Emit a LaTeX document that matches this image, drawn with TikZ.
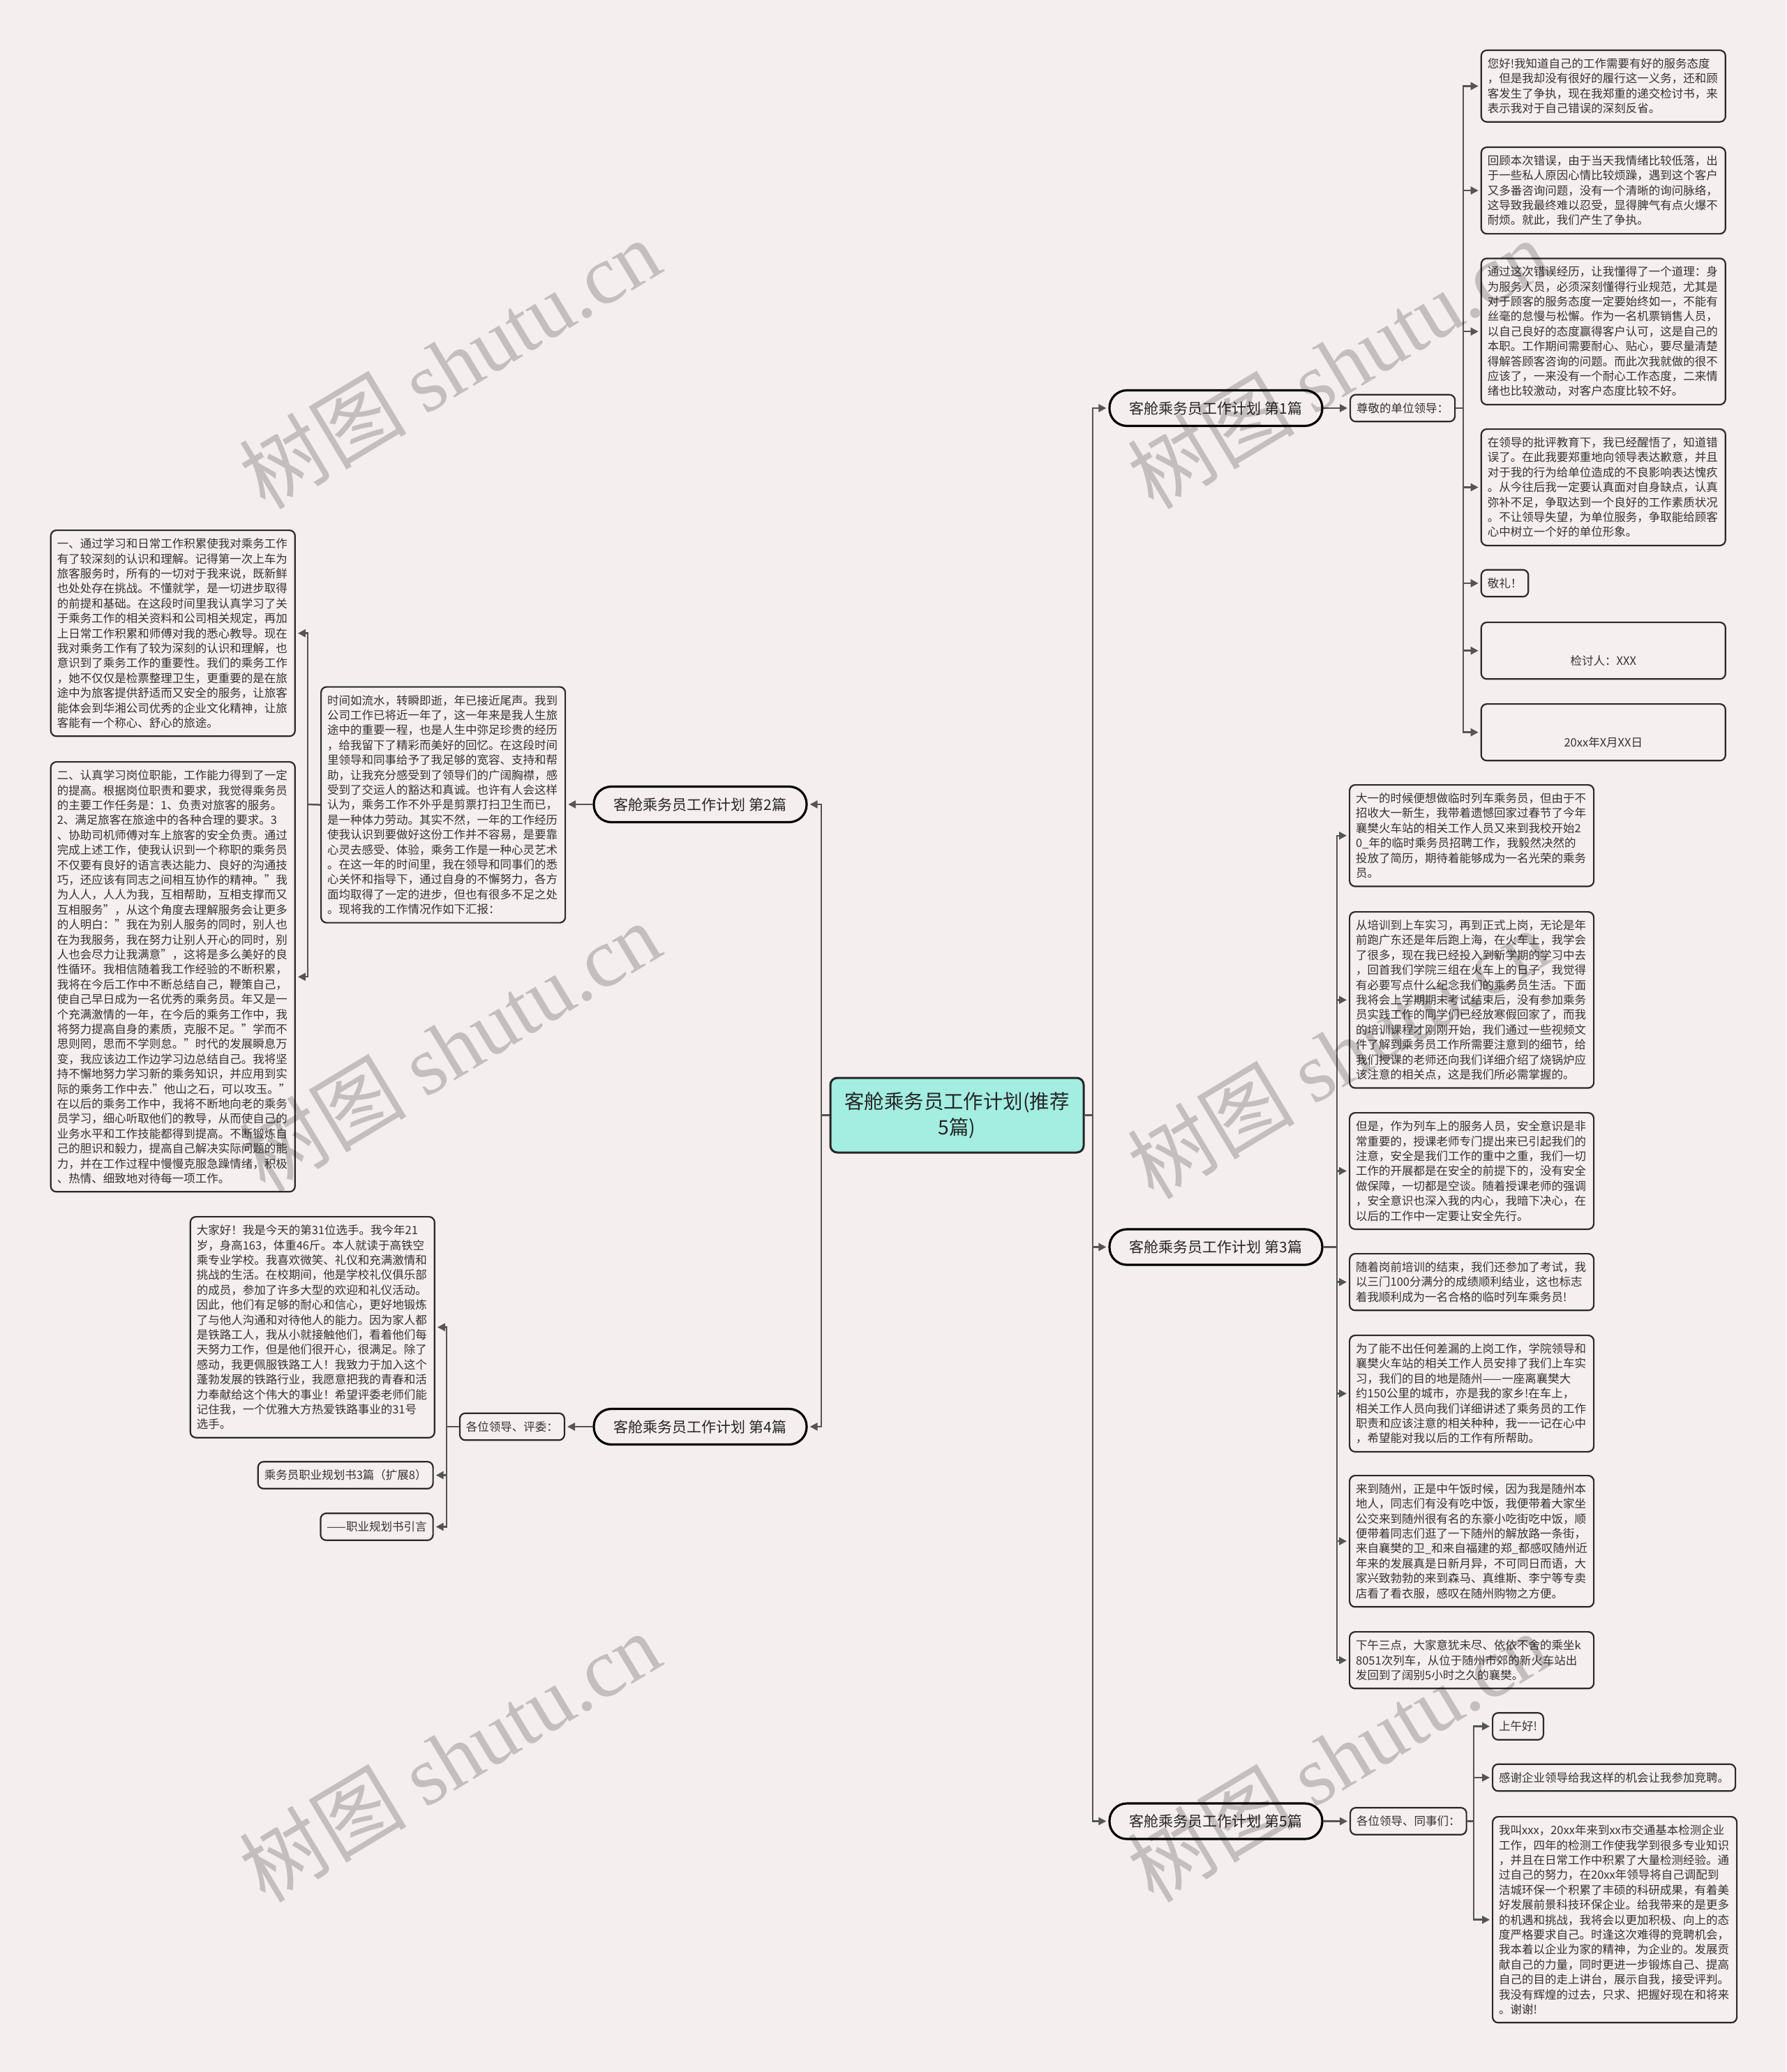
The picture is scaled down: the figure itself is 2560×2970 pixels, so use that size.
\documentclass[tikz,border=0pt]{standalone}
\usepackage{fontspec}
\setmainfont{Noto Sans CJK SC}
\newfontfamily\wmlatin{Liberation Serif}
\usetikzlibrary{arrows.meta}
\definecolor{bgc}{HTML}{F5EEEE}
\definecolor{boxfill}{HTML}{F6EFEF}
\definecolor{rootfill}{HTML}{A3EDE1}
\definecolor{linec}{HTML}{555555}
\definecolor{edgec}{HTML}{2B2B2B}
\definecolor{txtc}{HTML}{333333}
\newcommand\mmbody{\fontsize{8.25pt}{10.7pt}\selectfont}
\newcommand\mmbranch{\fontsize{10.5pt}{12pt}\selectfont}
\newcommand\mmroot{\fontsize{14.2pt}{18.5pt}\selectfont}
\newcommand\mmwm{\fontsize{60pt}{60pt}\selectfont}
\begin{document}
\begin{tikzpicture}[x=0.5pt,y=-0.5pt,
  conn/.style={draw=linec, line width=1.25pt},
  arr/.style={conn, -{Triangle[length=5.5pt,width=5.5pt]}, shorten >=1.5pt},
  leaf/.style={draw=edgec, line width=1.1pt, rounded corners=4pt, fill=boxfill, text=txtc,
    font=\mmbody, text width=166pt, inner xsep=4.5pt, inner ysep=2pt, align=left,
    anchor=north west, minimum height={#1*10.7pt+8.5pt}},
  tag/.style={draw=edgec, line width=1.1pt, rounded corners=4pt, fill=boxfill, text=txtc,
    font=\mmbody, inner xsep=4.5pt, inner ysep=2pt, minimum height=19.3pt},
  branch/.style={draw=black, line width=1.6pt, rounded corners=12.5pt, fill=bgc, text=black!85,
    font=\mmbranch, minimum width=152.5pt, minimum height=25.5pt, inner sep=2pt},
  rootbox/.style={draw=black!85, line width=1.5pt, rounded corners=5pt, fill=rootfill, text=black!85,
    font=\mmroot, align=center, minimum width=181.5pt, minimum height=53.5pt},
  wm/.style={rotate=31, font=\mmwm, text=black, text opacity=0.2}
]
\useasboundingbox (0,0) rectangle (2560,2970);
\fill[bgc] (0,0) rectangle (2560,2970);

% root
\node[rootbox] (root) at (1371.5,1598.5) {客舱乘务员工作计划(推荐\\5篇)};

% branches
\node[branch] (b1) at (1742.5,585) {客舱乘务员工作计划 第1篇};
\node[branch] (b3) at (1742.5,1787.5) {客舱乘务员工作计划 第3篇};
\node[branch] (b5) at (1742.5,2610.5) {客舱乘务员工作计划 第5篇};
\node[branch] (b2) at (1003.5,1153) {客舱乘务员工作计划 第2篇};
\node[branch] (b4) at (1003.5,2045) {客舱乘务员工作计划 第4篇};

% ---------- branch 1 ----------
\node[tag, anchor=west] (lab1) at (1934,585) {尊敬的单位领导：};
\node[leaf=4] (r1a) at (2121.7,71) {您好!我知道自己的工作需要有好的服务态度\\
，但是我却没有很好的履行这一义务，还和顾\\
客发生了争执，现在我郑重的递交检讨书，来\\
表示我对于自己错误的深刻反省。};
\node[leaf=5] (r1b) at (2121.7,210) {回顾本次错误，由于当天我情绪比较低落，出\\
于一些私人原因心情比较烦躁，遇到这个客户\\
又多番咨询问题，没有一个清晰的询问脉络，\\
这导致我最终难以忍受，显得脾气有点火爆不\\
耐烦。就此，我们产生了争执。};
\node[leaf=9] (r1c) at (2121.7,369.3) {通过这次错误经历，让我懂得了一个道理：身\\
为服务人员，必须深刻懂得行业规范，尤其是\\
对于顾客的服务态度一定要始终如一，不能有\\
丝毫的怠慢与松懈。作为一名机票销售人员，\\
以自己良好的态度赢得客户认可，这是自己的\\
本职。工作期间需要耐心、贴心，要尽量清楚\\
得解答顾客咨询的问题。而此次我就做的很不\\
应该了，一来没有一个耐心工作态度，二来情\\
绪也比较激动，对客户态度比较不好。};
\node[leaf=7] (r1d) at (2121.7,614) {在领导的批评教育下，我已经醒悟了，知道错\\
误了。在此我要郑重地向领导表达歉意，并且\\
对于我的行为给单位造成的不良影响表达愧疚\\
。从今往后我一定要认真面对自身缺点，认真\\
弥补不足，争取达到一个良好的工作素质状况\\
。不让领导失望，为单位服务，争取能给顾客\\
心中树立一个好的单位形象。};
\node[tag, anchor=west] (r1e) at (2121.7,836) {敬礼！};
\node[leaf=3, align=center] (r1f) at (2121.7,891) {\mbox{}\\
\mbox{}\\
检讨人：XXX};
\node[leaf=3, align=center] (r1g) at (2121.7,1008) {\mbox{}\\
\mbox{}\\
20xx年X月XX日};

\draw[arr] (b1.east) -- (lab1.west);
\coordinate (t1) at (2097,585);
\draw[conn] (lab1.east) -- (t1);
\foreach \c in {r1a,r1b,r1c,r1d,r1e,r1f,r1g} \draw[arr] (t1) |- (\c.west);

% ---------- branch 3 ----------
\node[leaf=6] (r3a) at (1933,1124) {大一的时候便想做临时列车乘务员，但由于不\\
招收大一新生，我带着遗憾回家过春节了今年\\
襄樊火车站的相关工作人员又来到我校开始2\\
0\_年的临时乘务员招聘工作，我毅然决然的\\
投放了简历，期待着能够成为一名光荣的乘务\\
员。};
\node[leaf=11] (r3b) at (1933,1306) {从培训到上车实习，再到正式上岗，无论是年\\
前跑广东还是年后跑上海，在火车上，我学会\\
了很多，现在我已经投入到新学期的学习中去\\
，回首我们学院三组在火车上的日子，我觉得\\
有必要写点什么纪念我们的乘务员生活。下面\\
我将会上学期期末考试结束后，没有参加乘务\\
员实践工作的同学们已经放寒假回家了，而我\\
的培训课程才刚刚开始，我们通过一些视频文\\
件了解到乘务员工作所需要注意到的细节，给\\
我们授课的老师还向我们详细介绍了烧锅炉应\\
该注意的相关点，这是我们所必需掌握的。};
\node[leaf=7] (r3c) at (1933,1594) {但是，作为列车上的服务人员，安全意识是非\\
常重要的，授课老师专门提出来已引起我们的\\
注意，安全是我们工作的重中之重，我们一切\\
工作的开展都是在安全的前提下的，没有安全\\
做保障，一切都是空谈。随着授课老师的强调\\
，安全意识也深入我的内心，我暗下决心，在\\
以后的工作中一定要让安全先行。};
\node[leaf=3] (r3d) at (1933,1796) {随着岗前培训的结束，我们还参加了考试，我\\
以三门100分满分的成绩顺利结业，这也标志\\
着我顺利成为一名合格的临时列车乘务员!};
\node[leaf=7] (r3e) at (1933,1913) {为了能不出任何差漏的上岗工作，学院领导和\\
襄樊火车站的相关工作人员安排了我们上车实\\
习，我们的目的地是随州——一座离襄樊大\\
约150公里的城市，亦是我的家乡!在车上，\\
相关工作人员向我们详细讲述了乘务员的工作\\
职责和应该注意的相关种种，我一一记在心中\\
，希望能对我以后的工作有所帮助。};
\node[leaf=8] (r3f) at (1933,2114) {来到随州，正是中午饭时候，因为我是随州本\\
地人，同志们有没有吃中饭，我便带着大家坐\\
公交来到随州很有名的东豪小吃街吃中饭，顺\\
便带着同志们逛了一下随州的解放路一条街，\\
来自襄樊的卫\_和来自福建的郑\_都感叹随州近\\
年来的发展真是日新月异，不可同日而语，大\\
家兴致勃勃的来到森马、真维斯、李宁等专卖\\
店看了看衣服，感叹在随州购物之方便。};
\node[leaf=3] (r3g) at (1933,2338) {下午三点，大家意犹未尽、依依不舍的乘坐k\\
8051次列车，从位于随州市郊的新火车站出\\
发回到了阔别5小时之久的襄樊。};

\coordinate (t3) at (1916,1787.5);
\draw[conn] (b3.east) -- (t3);
\foreach \c in {r3a,r3b,r3c,r3d,r3e,r3f,r3g} \draw[arr] (t3) |- (\c.west);

% ---------- branch 5 ----------
\node[tag, anchor=west] (lab5) at (1934,2610.5) {各位领导、同事们：};
\node[tag, anchor=west] (r5a) at (2138,2474.5) {上午好!};
\node[tag, anchor=west] (r5b) at (2138,2548) {感谢企业领导给我这样的机会让我参加竞聘。};
\node[leaf=13] (r5c) at (2138,2603) {我叫xxx，20xx年来到xx市交通基本检测企业\\
工作，四年的检测工作使我学到很多专业知识\\
，并且在日常工作中积累了大量检测经验。通\\
过自己的努力，在20xx年领导将自己调配到\\
洁城环保一个积累了丰硕的科研成果，有着美\\
好发展前景科技环保企业。给我带来的是更多\\
的机遇和挑战，我将会以更加积极、向上的态\\
度严格要求自己。时逢这次难得的竞聘机会，\\
我本着以企业为家的精神，为企业的。发展贡\\
献自己的力量，同时更进一步锻炼自己、提高\\
自己的目的走上讲台，展示自我，接受评判。\\
我没有辉煌的过去，只求、把握好现在和将来\\
。谢谢!};

\draw[arr] (b5.east) -- (lab5.west);
\coordinate (t5) at (2112,2610.5);
\draw[conn] (lab5.east) -- (t5);
\foreach \c in {r5a,r5b,r5c} \draw[arr] (t5) |- (\c.west);

% ---------- branch 2 ----------
\node[leaf=15] (l2) at (459,983.5) {时间如流水，转瞬即逝，年已接近尾声。我到\\
公司工作已将近一年了，这一年来是我人生旅\\
途中的重要一程，也是人生中弥足珍贵的经历\\
，给我留下了精彩而美好的回忆。在这段时间\\
里领导和同事给予了我足够的宽容、支持和帮\\
助，让我充分感受到了领导们的广阔胸襟，感\\
受到了交运人的豁达和真诚。也许有人会这样\\
认为，乘务工作不外乎是剪票打扫卫生而已，\\
是一种体力劳动。其实不然，一年的工作经历\\
使我认识到要做好这份工作并不容易，是要靠\\
心灵去感受、体验，乘务工作是一种心灵艺术\\
。在这一年的时间里，我在领导和同事们的悉\\
心关怀和指导下，通过自身的不懈努力，各方\\
面均取得了一定的进步，但也有很多不足之处\\
。现将我的工作情况作如下汇报：};
\node[leaf=13] (l2a) at (71.7,759) {一、通过学习和日常工作积累使我对乘务工作\\
有了较深刻的认识和理解。记得第一次上车为\\
旅客服务时，所有的一切对于我来说，既新鲜\\
也处处存在挑战。不懂就学，是一切进步取得\\
的前提和基础。在这段时间里我认真学习了关\\
于乘务工作的相关资料和公司相关规定，再加\\
上日常工作积累和师傅对我的悉心教导。现在\\
我对乘务工作有了较为深刻的认识和理解，也\\
意识到了乘务工作的重要性。我们的乘务工作\\
，她不仅仅是检票整理卫生，更重要的是在旅\\
途中为旅客提供舒适而又安全的服务，让旅客\\
能体会到华湘公司优秀的企业文化精神，让旅\\
客能有一个称心、舒心的旅途。};
\node[leaf=28] (l2b) at (71.7,1091) {二、认真学习岗位职能，工作能力得到了一定\\
的提高。根据岗位职责和要求，我觉得乘务员\\
的主要工作任务是：1、负责对旅客的服务。\\
2、满足旅客在旅途中的各种合理的要求。3\\
、协助司机师傅对车上旅客的安全负责。通过\\
完成上述工作，使我认识到一个称职的乘务员\\
不仅要有良好的语言表达能力、良好的沟通技\\
巧，还应该有同志之间相互协作的精神。"我\\
为人人，人人为我，互相帮助，互相支撑而又\\
互相服务"，从这个角度去理解服务会让更多\\
的人明白："我在为别人服务的同时，别人也\\
在为我服务，我在努力让别人开心的同时，别\\
人也会尽力让我满意"，这将是多么美好的良\\
性循环。我相信随着我工作经验的不断积累，\\
我将在今后工作中不断总结自己，鞭策自己，\\
使自己早日成为一名优秀的乘务员。年又是一\\
个充满激情的一年，在今后的乘务工作中，我\\
将努力提高自身的素质，克服不足。"学而不\\
思则罔，思而不学则怠。"时代的发展瞬息万\\
变，我应该边工作边学习边总结自己。我将坚\\
持不懈地努力学习新的乘务知识，并应用到实\\
际的乘务工作中去."他山之石，可以攻玉。"\\
在以后的乘务工作中，我将不断地向老的乘务\\
员学习，细心听取他们的教导，从而使自己的\\
业务水平和工作技能都得到提高。不断锻炼自\\
己的胆识和毅力，提高自己解决实际问题的能\\
力，并在工作过程中慢慢克服急躁情绪，积极\\
、热情、细致地对待每一项工作。};

\draw[arr] (b2.west) -- (b2.west -| l2.east);
\coordinate (t2) at (441,1153);
\draw[conn] (l2.west) -- (t2);
\foreach \c in {l2a,l2b} \draw[arr] (t2) |- (\c.east);

% ---------- branch 4 ----------
\node[tag, anchor=east] (lab4) at (810,2045) {各位领导、评委：};
\node[leaf=14] (l4a) at (271.7,1743) {大家好！我是今天的第31位选手。我今年21\\
岁，身高163，体重46斤。本人就读于高铁空\\
乘专业学校。我喜欢微笑、礼仪和充满激情和\\
挑战的生活。在校期间，他是学校礼仪俱乐部\\
的成员，参加了许多大型的欢迎和礼仪活动。\\
因此，他们有足够的耐心和信心，更好地锻炼\\
了与他人沟通和对待他人的能力。因为家人都\\
是铁路工人，我从小就接触他们，看着他们每\\
天努力工作，但是他们很开心，很满足。除了\\
感动，我更佩服铁路工人！我致力于加入这个\\
蓬勃发展的铁路行业，我愿意把我的青春和活\\
力奉献给这个伟大的事业！希望评委老师们能\\
记住我，一个优雅大方热爱铁路事业的31号\\
选手。};
\node[tag, anchor=east] (l4b) at (621.7,2114.5) {乘务员职业规划书3篇（扩展8）};
\node[tag, anchor=east] (l4c) at (621.7,2188.5) {——职业规划书引言};

\draw[arr] (b4.west) -- (lab4.east);
\coordinate (t4) at (640,2045);
\draw[conn] (lab4.west) -- (t4);
\foreach \c in {l4a,l4b,l4c} \draw[arr] (t4) |- (\c.east);

% ---------- root connectors ----------
\coordinate (tR) at (1566,1598.5);
\coordinate (tL) at (1177,1598.5);
\draw[conn] (root.east) -- (tR);
\draw[conn] (root.west) -- (tL);
\foreach \c in {b1,b3,b5} \draw[arr] (tR) |- (\c.west);
\foreach \c in {b2,b4} \draw[arr] (tL) |- (\c.east);

% ---------- watermark ----------
\node[wm] (w1) at (644,521) {树图 {\wmlatin shutu.cn}};
\node[wm] (w2) at (1917,521) {树图 {\wmlatin shutu.cn}};
\node[wm] (w3) at (644,1500) {树图 {\wmlatin shutu.cn}};
\node[wm] (w4) at (1917,1510) {树图 {\wmlatin shutu.cn}};
\node[wm] (w5) at (644,2518) {树图 {\wmlatin shutu.cn}};
\node[wm] (w6) at (1917,2518) {树图 {\wmlatin shutu.cn}};
\end{tikzpicture}
\end{document}
